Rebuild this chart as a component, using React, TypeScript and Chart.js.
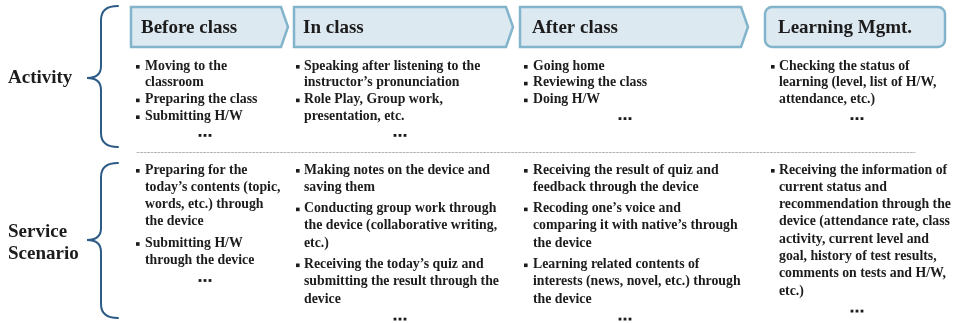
import React, { useEffect, useRef } from "react";
import { Chart, registerables } from "chart.js";

Chart.register(...registerables);

// ---------- data ----------
const stages = ["Before class", "In class", "After class", "Learning Mgmt."];
const rowLabels = [["Activity"], ["Service", "Scenario"]];

const activityItems: string[][][] = [
  [["Moving to the", "classroom"], ["Preparing the class"], ["Submitting H/W"]],
  [["Speaking after listening to the", "instructor\u2019s pronunciation"], ["Role Play, Group work,", "presentation, etc."]],
  [["Going home"], ["Reviewing the class"], ["Doing H/W"]],
  [["Checking the status of", "learning (level, list of H/W,", "attendance, etc.)"]],
];

const serviceItems: string[][][] = [
  [
    ["Preparing for the", "today\u2019s contents (topic,", "words, etc.) through", "the device"],
    ["Submitting H/W", "through the device"],
  ],
  [
    ["Making notes on the device and", "saving them"],
    ["Conducting group work through", "the device (collaborative writing,", "etc.)"],
    ["Receiving the today\u2019s quiz and", "submitting the result through the", "device"],
  ],
  [
    ["Receiving the result of quiz and", "feedback through the device"],
    ["Recoding one\u2019s voice and", "comparing it with native\u2019s through", "the device"],
    ["Learning related contents of", "interests (news, novel, etc.) through", "the device"],
  ],
  [
    [
      "Receiving the information of",
      "current status and",
      "recommendation through the",
      "device (attendance rate, class",
      "activity, current level and",
      "goal, history of test results,",
      "comments on tests and H/W,",
      "etc.)",
    ],
  ],
];

// ---------- layout (pixel-space scale units) ----------
const W = 953;
const H = 323;
const FONT = "'Liberation Serif', 'Times New Roman', serif";
const TEXT = "#1c1c1c";
const BRACE = "#2d5b86";
const BOX_STROKE = "#82b5cc";
const BOX_FILL = "#dde9f1";

const boxes = [
  { l: 131, r: 281, tip: 288, kind: "chev" },
  { l: 294, r: 506, tip: 513, kind: "chev" },
  { l: 520, r: 741, tip: 748, kind: "chev" },
  { l: 765, r: 945, tip: 945, kind: "round" },
];
const boxTop = 7;
const boxBot = 47;
const headerTextX = [141, 303, 532, 778];
const bulletX = [138, 298, 526, 773];
const textX = [145, 304, 533, 779];
const dotsX = [205, 400, 625, 857];

const rowsLayout = [
  { start: 66, lh: 16.8, gap: 0, dots: 19, items: activityItems },
  { start: 170, lh: 17.3, gap: 4, dots: 20, items: serviceItems },
];

const braces = [
  { top: 6, tip: 78, bot: 147 },
  { top: 163, tip: 240, bot: 318 },
];

const labelPos = [
  { x: 8, y: 78 },
  { x: 8, y: 243 },
];

export default function App() {
  const ref = useRef<HTMLCanvasElement>(null);

  useEffect(() => {
    document.body.style.margin = "0";
    const canvas = ref.current!;
    const drawPlugin = {
      id: "diagram",
      afterDraw(chart: any) {
        const ctx: CanvasRenderingContext2D = chart.ctx;
        const xs = chart.scales.x;
        const ys = chart.scales.y;
        const X = (v: number) => xs.getPixelForValue(v);
        const Y = (v: number) => ys.getPixelForValue(v);
        ctx.save();

        // header shapes
        boxes.forEach((b, i) => {
          ctx.beginPath();
          if (b.kind === "chev") {
            ctx.moveTo(X(b.l), Y(boxTop));
            ctx.lineTo(X(b.r), Y(boxTop));
            ctx.lineTo(X(b.tip), Y((boxTop + boxBot) / 2));
            ctx.lineTo(X(b.r), Y(boxBot));
            ctx.lineTo(X(b.l), Y(boxBot));
            ctx.closePath();
          } else {
            const r = 7;
            const l = X(b.l), rr = X(b.r), t = Y(boxTop), bt = Y(boxBot);
            ctx.moveTo(l + r, t);
            ctx.arcTo(rr, t, rr, bt, r);
            ctx.arcTo(rr, bt, l, bt, r);
            ctx.arcTo(l, bt, l, t, r);
            ctx.arcTo(l, t, rr, t, r);
            ctx.closePath();
          }
          ctx.fillStyle = BOX_FILL;
          ctx.fill();
          ctx.lineWidth = 2.5;
          ctx.strokeStyle = BOX_STROKE;
          ctx.lineJoin = "miter";
          ctx.stroke();

          ctx.fillStyle = TEXT;
          ctx.font = `bold 19px ${FONT}`;
          ctx.textBaseline = "middle";
          ctx.textAlign = "left";
          ctx.fillText(stages[i], X(headerTextX[i]), Y((boxTop + boxBot) / 2 + 1));
        });

        // braces
        ctx.strokeStyle = BRACE;
        ctx.lineWidth = 2;
        ctx.lineCap = "round";
        braces.forEach((br) => {
          const xe = X(118), xsx = X(101), xt = X(87);
          ctx.beginPath();
          ctx.moveTo(xe, Y(br.top));
          ctx.quadraticCurveTo(xsx, Y(br.top), xsx, Y(br.top + 14));
          ctx.lineTo(xsx, Y(br.tip - 12));
          ctx.quadraticCurveTo(xsx, Y(br.tip), xt, Y(br.tip));
          ctx.quadraticCurveTo(xsx, Y(br.tip), xsx, Y(br.tip + 12));
          ctx.lineTo(xsx, Y(br.bot - 14));
          ctx.quadraticCurveTo(xsx, Y(br.bot), xe, Y(br.bot));
          ctx.stroke();
        });

        // row labels
        ctx.fillStyle = TEXT;
        ctx.font = `bold 19px ${FONT}`;
        ctx.textAlign = "left";
        ctx.textBaseline = "middle";
        rowLabels.forEach((lines, i) => {
          const n = lines.length;
          lines.forEach((s, j) => {
            ctx.fillText(s, X(labelPos[i].x), Y(labelPos[i].y + (j - (n - 1) / 2) * 22));
          });
        });

        // dashed separator
        ctx.save();
        ctx.strokeStyle = "#b5b5b5";
        ctx.lineWidth = 1;
        ctx.setLineDash([2, 1.5]);
        ctx.beginPath();
        ctx.moveTo(X(137), Y(152.5));
        ctx.lineTo(X(915), Y(152.5));
        ctx.stroke();
        ctx.restore();

        // bullet text
        ctx.font = `bold 13.8px ${FONT}`;
        rowsLayout.forEach((row) => {
          row.items.forEach((col, c) => {
            let y = row.start;
            let last = y;
            col.forEach((bullet, bi) => {
              if (bi > 0) y += row.gap;
              bullet.forEach((line, li) => {
                if (li === 0) {
                  ctx.fillStyle = TEXT;
                  ctx.fillRect(X(bulletX[c]) - 2, Y(y) - 1, 3.6, 3.6);
                }
                ctx.fillStyle = TEXT;
                ctx.fillText(line, X(textX[c]), Y(y));
                last = y;
                y += row.lh;
              });
            });
            const dy = Y(last + row.dots);
            for (let k = -1; k <= 1; k++) {
              ctx.fillRect(X(dotsX[c] + k * 5) - 1.4, dy - 1.4, 2.8, 2.8);
            }
          });
        });

        ctx.restore();
      },
    };

    const chart = new Chart(canvas, {
      type: "scatter",
      data: { datasets: [{ data: [], pointRadius: 0 }] },
      options: {
        responsive: false,
        animation: false,
        devicePixelRatio: 1,
        layout: { padding: 0 },
        plugins: { legend: { display: false }, tooltip: { enabled: false } },
        scales: {
          x: { type: "linear", min: 0, max: W, display: false },
          y: { type: "linear", min: 0, max: H, reverse: true, display: false },
        },
      },
      plugins: [drawPlugin],
    });
    return () => chart.destroy();
  }, []);

  return (
    <div style={{ width: W, height: H, background: "#fff" }}>
      <canvas ref={ref} width={W} height={H} style={{ display: "block" }} />
    </div>
  );
}
